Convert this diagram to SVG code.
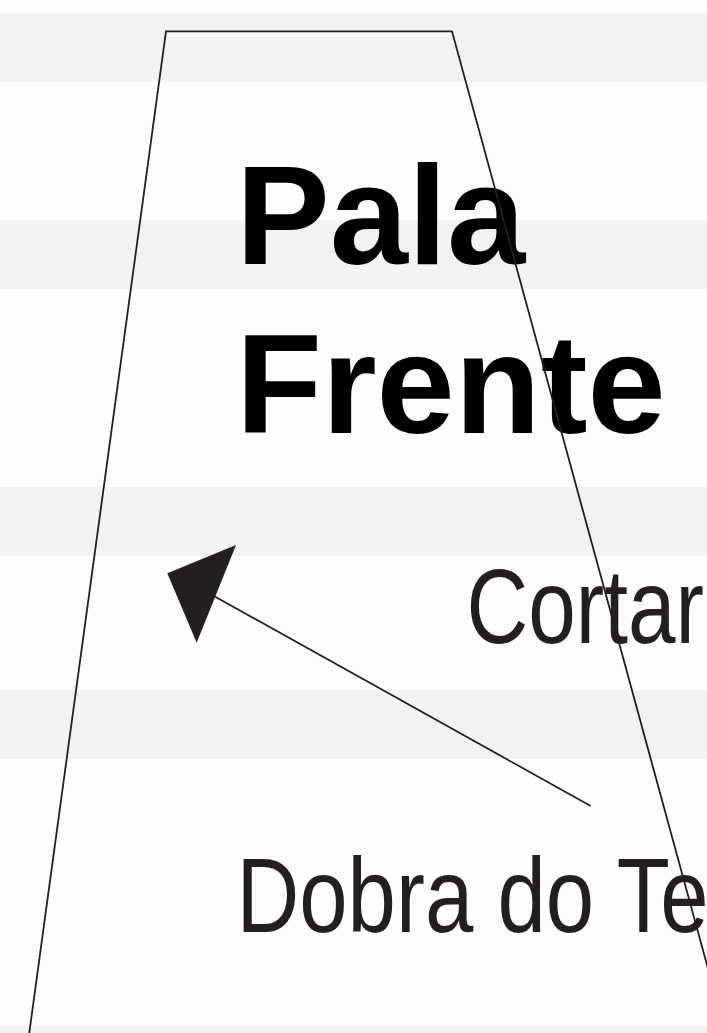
<svg xmlns="http://www.w3.org/2000/svg" width="707" height="1033" viewBox="0 0 707 1033">
  <style>
    .band { fill: #f2f2f2; }
    .title { font-family: "Liberation Sans", Arial, sans-serif; font-weight: bold; font-size: 140.6px; fill: #000000; }
    .label { font-family: "Liberation Sans", Arial, sans-serif; font-size: 105.6px; fill: #231f20; }
    .outline { fill: none; stroke: #231f20; stroke-width: 1.8; stroke-linejoin: miter; }
    .conn { fill: none; stroke: #231f20; stroke-width: 1.7; }
    .head { fill: #231f20; stroke: none; }
  </style>
  <g id="background">
    <rect x="0" y="0" width="707" height="1033" fill="#fdfdfb"/>
    <rect class="band" x="0" y="13.3" width="707" height="68.4"/>
    <rect class="band" x="0" y="220" width="707" height="69"/>
    <rect class="band" x="0" y="487" width="707" height="69"/>
    <rect class="band" x="0" y="690" width="707" height="69"/>
    <rect class="band" x="0" y="1026" width="707" height="10"/>
  </g>
  <g id="title">
    <text class="title" x="236" y="264">Pala</text>
    <text class="title" x="236" y="432.7">Frente</text>
  </g>
  <g id="cortar">
    <text class="label" x="466.4" y="642.5" textLength="237.5" lengthAdjust="spacingAndGlyphs">Cortar</text>
  </g>
  <g id="dobra">
    <text class="label" x="236.5" y="932.3" textLength="472" lengthAdjust="spacingAndGlyphs">Dobra do Te</text>
  </g>
  <g id="piece">
    <path class="outline" d="M28.3,1040 L166,31.3 L452,31.3 L727.5,1040"/>
  </g>
  <g id="connectors">
    <line class="conn" x1="590.7" y1="806" x2="205" y2="591"/>
    <polygon class="head" points="167.3,573.3 236,545 196.7,642.7"/>
  </g>
</svg>
